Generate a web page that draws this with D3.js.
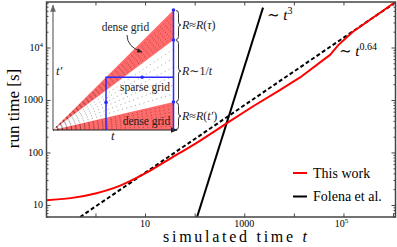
<!DOCTYPE html>
<html>
<head>
<meta charset="utf-8">
<script src="https://cdn.jsdelivr.net/npm/d3@7"></script>
<style>
  body { margin: 0; background: #fff; }
  svg { display: block; }
  text { font-family: "Liberation Serif", "DejaVu Serif", serif; }
</style>
</head>
<body>
<svg width="397" height="247"></svg>
<script>
// main curves (t, run time)
const redT = [0.103, 0.316, 1, 3.16, 10, 31.6, 100, 447, 1514, 5012, 13340, 53700, 79400, 155000, 1.12e6];
const redR = [12.3, 13.5, 16.6, 23.4, 39.8, 75.9, 144.5, 363, 760, 1503, 2690, 7244, 11220, 19950, 73600];
const dashT = [0.49, 1.12e6];
const dashR = [5.9, 72400];
const folT = [112, 2390];
const folR = [5.9, 57500];

const xMajor = [1, 10, 100, 1000, 1e4, 1e5, 1e6];
const xLabels = [[10, "10", ""], [1000, "1000", ""], [1e5, "10", "5"]];
const yLabels = [[10, "10", ""], [100, "100", ""], [1000, "1000", ""], [1e4, "10", "4"]];

// inset schematic (t, t' in [0,1])
const upperBand = [1, 0.75];
const lowerBand = [0.233, 0];
const denseSlopes = [0.03, 0.06, 0.09, 0.12, 0.15, 0.18, 0.21, 0.78, 0.81, 0.84, 0.87, 0.9, 0.93, 0.96];
const sparseSlopes = [0.3, 0.375, 0.45, 0.525, 0.6, 0.675];
const blueX = [0.44, 0.44, 1, 1, 1];
const blueY = [0, 0.44, 0.44, 1, 0];
const blueDots = [[0.44, 0.23], [0.74, 0.44], [1, 0.75], [1, 0.233], [1, 1]];
const braces = [[1, 0.75, "R≈R(τ)"], [0.75, 0.233, "R∼1/t"], [0.233, 0, "R≈R(t′)"]];

const svg = d3.select("svg");
const margin = { top: 2, right: 1.5, bottom: 30, left: 46.5 };
const width = +svg.attr("width"), height = +svg.attr("height");

const x = d3.scaleLog().domain([0.103, 1.12e6]).range([margin.left, width - margin.right]);
const y = d3.scaleLog().domain([5.9, 73600]).range([height - margin.bottom, margin.top]);

const defs = svg.append("defs");
defs.append("clipPath").attr("id", "clip")
  .append("rect").attr("x", margin.left).attr("y", margin.top)
  .attr("width", x.range()[1] - margin.left).attr("height", y.range()[0] - margin.top);
defs.append("marker").attr("id", "arr").attr("viewBox", "0 0 10 10").attr("refX", 9).attr("refY", 5)
  .attr("markerWidth", 6).attr("markerHeight", 6).attr("orient", "auto")
  .append("path").attr("d", "M0,1 L10,5 L0,9 z").attr("fill", "#222");
defs.append("marker").attr("id", "arrg").attr("viewBox", "0 0 10 10").attr("refX", 9).attr("refY", 5)
  .attr("markerWidth", 6).attr("markerHeight", 6).attr("orient", "auto")
  .append("path").attr("d", "M0,1 L10,5 L0,9 z").attr("fill", "#666");

// ---- inset ----
const ix = d3.scaleLinear().domain([0, 1]).range([53, 173.5]);
const iy = d3.scaleLinear().domain([0, 1]).range([130, 10]);
const inset = svg.append("g");

const band = b => `M${ix(0)},${iy(0)} L${ix(1)},${iy(b[0])} L${ix(1)},${iy(b[1])} Z`;
inset.append("path").attr("d", band(upperBand)).attr("fill", "#ff6b6b");
inset.append("path").attr("d", band(lowerBand)).attr("fill", "#ff6b6b");

inset.selectAll(".fan").data(denseSlopes.concat(sparseSlopes)).enter().append("line")
  .attr("x1", ix(0)).attr("y1", iy(0))
  .attr("x2", ix(1)).attr("y2", d => iy(d))
  .attr("stroke", d => denseSlopes.includes(d) ? "#7a3030" : "#777")
  .attr("stroke-width", 0.7)
  .attr("stroke-dasharray", "1,3.5");

// inset axes
inset.append("line").attr("x1", ix(0)).attr("y1", iy(0)).attr("x2", ix(0)).attr("y2", iy(1.04))
  .attr("stroke", "#666").attr("stroke-width", 1.2).attr("marker-end", "url(#arrg)");
inset.append("line").attr("x1", ix(0)).attr("y1", iy(0)).attr("x2", ix(1.03)).attr("y2", iy(0))
  .attr("stroke", "#222").attr("stroke-width", 1.2).attr("marker-end", "url(#arr)");

// blue path
inset.append("path")
  .attr("d", d3.line().x((d, i) => ix(blueX[i])).y((d, i) => iy(blueY[i]))(blueX))
  .attr("fill", "none").attr("stroke", "#2a2aff").attr("stroke-width", 1.5);
inset.selectAll(".bd").data(blueDots).enter().append("circle")
  .attr("cx", d => ix(d[0])).attr("cy", d => iy(d[1])).attr("r", 1.8).attr("fill", "#2a2aff");

// braces
const brace = (bx, y1, y2, w) => {
  const ym = (y1 + y2) / 2, r = 3, h = bx + w * 0.5;
  return `M${bx},${y1} Q${h},${y1} ${h},${y1 + r} L${h},${ym - r} Q${h},${ym} ${bx + w},${ym}` +
    ` Q${h},${ym} ${h},${ym + r} L${h},${y2 - r} Q${h},${y2} ${bx},${y2}`;
};
braces.forEach(b => {
  const y1 = iy(b[0]) + 0.5, y2 = iy(b[1]) - 0.5;
  inset.append("path").attr("d", brace(176, y1, y2, 5))
    .attr("fill", "none").attr("stroke", "#222").attr("stroke-width", 0.9);
  const m = b[2].match(/^(R)(.)(.*)$/);
  const t = inset.append("text").attr("x", 182).attr("y", (y1 + y2) / 2 + 4)
    .attr("font-size", 12).attr("fill", "#222");
  t.append("tspan").attr("font-style", "italic").text("R");
  t.append("tspan").text(m[2]);
  if (m[3] === "1/t") {
    t.append("tspan").text("1/");
    t.append("tspan").attr("font-style", "italic").text("t");
  } else {
    t.append("tspan").attr("font-style", "italic").text("R");
    t.append("tspan").text("(");
    t.append("tspan").attr("font-style", "italic").text(m[3].slice(2, -1));
    t.append("tspan").text(")");
  }
});

inset.append("text").attr("x", 125.5).attr("y", 30.5).attr("text-anchor", "middle")
  .attr("font-size", 11.5).attr("fill", "#222").text("dense grid");
inset.append("path").attr("d", "M127,35 Q127,47 142,52")
  .attr("fill", "none").attr("stroke", "#222").attr("stroke-width", 0.9).attr("marker-end", "url(#arr)");
inset.append("text").attr("x", 145).attr("y", 90.5).attr("text-anchor", "middle")
  .attr("font-size", 11.5).attr("fill", "#222").text("sparse grid");
inset.append("text").attr("x", 146.5).attr("y", 124.5).attr("text-anchor", "middle")
  .attr("font-size", 11.5).attr("fill", "#222").text("dense grid");
inset.append("text").attr("x", 111).attr("y", 140).attr("font-size", 13)
  .attr("font-style", "italic").attr("fill", "#222").text("t");
inset.append("text").attr("x", 56).attr("y", 75).attr("font-size", 13)
  .attr("font-style", "italic").attr("fill", "#222").text("t′");

// ---- curves ----
const plot = svg.append("g").attr("clip-path", "url(#clip)");
const line = d3.line().x(d => x(d[0])).y(d => y(d[1]));

plot.append("path").datum(dashT.map((t, i) => [t, dashR[i]])).attr("d", line)
  .attr("fill", "none").attr("stroke", "#000").attr("stroke-width", 2).attr("stroke-dasharray", "4,2.5");
plot.append("path").datum(folT.map((t, i) => [t, folR[i]])).attr("d", line)
  .attr("fill", "none").attr("stroke", "#000").attr("stroke-width", 2);
// smooth low-t part, straight segments after (kink near t ~ 5e4)
const red = redT.map((t, i) => [t, redR[i]]);
const kink = redT.indexOf(447);
plot.append("path").datum(red.slice(0, kink + 1))
  .attr("d", d3.line().x(d => x(d[0])).y(d => y(d[1])).curve(d3.curveMonotoneX))
  .attr("fill", "none").attr("stroke", "#f00").attr("stroke-width", 2);
plot.append("path").datum(red.slice(kink))
  .attr("d", line)
  .attr("fill", "none").attr("stroke", "#f00").attr("stroke-width", 2).attr("stroke-linejoin", "round");

// ---- axes (inward ticks, full frame) ----
const axCol = "#444";
const yMinor = [];
for (let e = 0; e <= 4; e++) for (let m = 2; m <= 9; m++) {
  const v = m * Math.pow(10, e);
  if (v >= 5.9 && v <= 73600) yMinor.push(v);
}
const yMajor = [10, 100, 1000, 1e4];

const styleAxis = g => {
  g.select(".domain").remove();
  g.selectAll(".tick line").attr("stroke", axCol).attr("stroke-width", 1);
  g.selectAll("text").remove();
};
svg.append("g").attr("transform", `translate(0,${y.range()[0]})`)
  .call(d3.axisBottom(x).tickValues(xMajor).tickSize(-3.5)).call(styleAxis);
svg.append("g").attr("transform", `translate(0,${margin.top})`)
  .call(d3.axisTop(x).tickValues(xMajor).tickSize(-3.5)).call(styleAxis);
[[d3.axisLeft, margin.left], [d3.axisRight, x.range()[1]]].forEach(([ax, pos]) => {
  svg.append("g").attr("transform", `translate(${pos},0)`)
    .call(ax(y).tickValues(yMajor).tickSize(-4)).call(styleAxis);
  svg.append("g").attr("transform", `translate(${pos},0)`)
    .call(ax(y).tickValues(yMinor).tickSize(-2)).call(styleAxis);
});

svg.append("rect").attr("x", margin.left).attr("y", margin.top)
  .attr("width", x.range()[1] - margin.left).attr("height", y.range()[0] - margin.top)
  .attr("fill", "none").attr("stroke", axCol).attr("stroke-width", 1.5);

xLabels.forEach(([v, base, ex]) => {
  const t = svg.append("text").attr("x", x(v) + (ex ? -2 : 0)).attr("y", 227)
    .attr("text-anchor", "middle").attr("font-size", 10).text(base);
  if (ex) t.append("tspan").attr("dy", -4).attr("font-size", 7).text(ex);
});
yLabels.forEach(([v, base, ex]) => {
  const t = svg.append("text").attr("x", 43).attr("y", y(v) + 3.5)
    .attr("text-anchor", "end").attr("font-size", 10);
  t.append("tspan").text(base);
  if (ex) t.append("tspan").attr("dy", -4).attr("font-size", 7).text(ex);
});

// titles
svg.append("text").attr("transform", "translate(19,108.5) rotate(-90)").attr("text-anchor", "middle")
  .attr("font-size", 17).text("run time [s]");
const xt = svg.append("text").attr("x", 163).attr("y", 242).attr("font-size", 16)
  .attr("textLength", 144).attr("lengthAdjust", "spacing");
xt.append("tspan").text("simulated time ");
xt.append("tspan").attr("font-style", "italic").text("t");

// annotations
const ann = (ax, ay, ex) => {
  const t = svg.append("text").attr("x", ax).attr("y", ay).attr("font-size", 15);
  t.append("tspan").text("∼ ");
  t.append("tspan").attr("font-style", "italic").text("t");
  t.append("tspan").attr("dy", -6).attr("font-size", 10).text(ex);
};
ann(267, 20, "3");
ann(339, 56, "0.64");

// legend
const legend = [["This work", "#f00", 173], ["Folena et al.", "#000", 196.5]];
legend.forEach(([label, col, ly]) => {
  svg.append("line").attr("x1", 293).attr("x2", 307).attr("y1", ly).attr("y2", ly)
    .attr("stroke", col).attr("stroke-width", 2);
  svg.append("text").attr("x", 313).attr("y", ly + 4.5).attr("font-size", 14).text(label);
});
</script>
</body>
</html>
